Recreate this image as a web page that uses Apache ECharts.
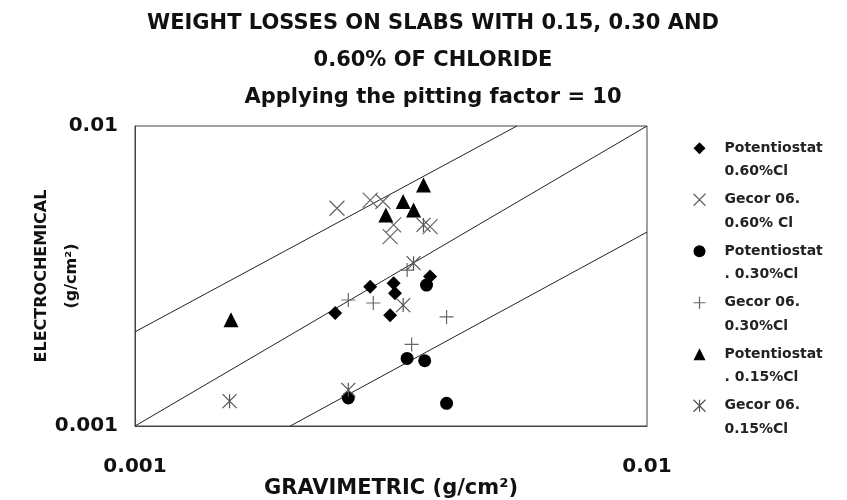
<!DOCTYPE html>
<html>
<head>
<meta charset="utf-8">
<script src="https://cdn.jsdelivr.net/npm/echarts@6/dist/echarts.min.js"></script>
<style>
  html, body { margin: 0; background: #fff; }
  #chart { width: 847px; height: 500px; }
</style>
</head>
<body>
<div id="chart"></div>
<script>
// values (g/cm2), [gravimetric, electrochemical]
const seriesNames = [
  "Potentiostat\n0.60%Cl",
  "Gecor 06.\n0.60% Cl",
  "Potentiostat\n. 0.30%Cl",
  "Gecor 06.\n0.30%Cl",
  "Potentiostat\n. 0.15%Cl",
  "Gecor 06.\n0.15%Cl"
]
const pot060 = [[0.00246, 0.00238], [0.00288, 0.00291], [0.00320, 0.00299], [0.00322, 0.00277], [0.00315, 0.00234], [0.00377, 0.00315]]
const gec060 = [[0.00248, 0.00532], [0.00288, 0.00566], [0.00305, 0.00560], [0.00315, 0.00428], [0.00320, 0.00468], [0.00377, 0.00462]]
const pot030 = [[0.00261, 0.00124], [0.00340, 0.00168], [0.00368, 0.00165], [0.00406, 0.00119], [0.00371, 0.00295]]
const gec030 = [[0.00261, 0.00263], [0.00292, 0.00257], [0.00340, 0.00331], [0.00406, 0.00231], [0.00347, 0.00187]]
const pot015 = [[0.00154, 0.00226], [0.00309, 0.00505], [0.00334, 0.00560], [0.00350, 0.00525], [0.00366, 0.00636]]
const gec015 = [[0.00153, 0.00121], [0.00261, 0.00132], [0.00350, 0.00349], [0.00334, 0.00253], [0.00366, 0.00468]]

// reference lines (factor bands)
const upperLine = [[0.001, 0.00206], [0.00557, 0.01]]
const middleLine = [[0.001, 0.001], [0.01, 0.01]]
const lowerLine = [[0.00201, 0.001], [0.01, 0.00443]]

const xTickLabels = ["0.001", "0.01"]
const yTickLabels = ["0.001", "0.01"]

const FONT = "DejaVu Sans"
const X_PATH = "path://M0,0L10,10M10,0L0,10"
const PLUS_PATH = "path://M5,0L5,10M0,5L10,5"
const STAR_PATH = "path://M0,0L10,10M10,0L0,10M5,0L5,10"

const filled = (color) => ({ color: color, borderWidth: 0, opacity: 1 })
const stroked = (color) => ({ color: "none", borderColor: color, borderWidth: 1.2, opacity: 1 })

const markerDefs = [
  { data: pot060, symbol: "diamond", size: 14, style: filled("#000") },
  { data: gec060, symbol: X_PATH, size: 15, style: stroked("#666") },
  { data: pot030, symbol: "circle", size: 13, style: filled("#000") },
  { data: gec030, symbol: PLUS_PATH, size: 14, style: stroked("#666") },
  { data: pot015, symbol: "triangle", size: 15, style: filled("#000") },
  { data: gec015, symbol: STAR_PATH, size: 14, style: stroked("#555") }
]

function lineSeries(data) {
  return {
    type: "line",
    data: data,
    symbol: "none",
    silent: true,
    lineStyle: { color: "#222", width: 1 },
    z: 1
  }
}

const chart = echarts.init(document.getElementById("chart"))

chart.setOption({
  backgroundColor: "#fff",
  animation: false,
  title: {
    text: "WEIGHT LOSSES ON SLABS WITH 0.15, 0.30 AND\n0.60% OF CHLORIDE\nApplying the pitting factor = 10",
    left: 428,
    top: 0,
    textAlign: "center",
    textStyle: { fontFamily: FONT, fontSize: 21, fontWeight: "bold", color: "#111", lineHeight: 37 }
  },
  legend: {
    orient: "vertical",
    left: 686,
    top: 108,
    itemWidth: 12,
    itemHeight: 12,
    itemGap: -19,
    selectedMode: false,
    data: seriesNames.map((n, i) => ({
      name: n,
      itemStyle: markerDefs[i].style.color === "none"
        ? { color: "none", borderColor: markerDefs[i].style.borderColor, borderWidth: 1.2, opacity: 1 }
        : { color: markerDefs[i].style.color, borderWidth: 0, opacity: 1 }
    })),
    // blank first line so the first text line sits level with the icon
    formatter: (name) => "\n" + name,
    textStyle: {
      fontFamily: FONT, fontSize: 14, fontWeight: "bold", color: "#222",
      lineHeight: 23.5, padding: [0, 0, 0, 14]
    }
  },
  grid: {
    left: 135, right: 200, top: 126, bottom: 74,
    outerBoundsMode: "none",
    containLabel: false,
    show: true, borderColor: "#444", borderWidth: 1, backgroundColor: "transparent"
  },
  xAxis: {
    type: "log",
    logBase: 10,
    min: 0.001,
    max: 0.01,
    name: "GRAVIMETRIC (g/cm²)",
    nameLocation: "middle",
    nameGap: 52,
    nameMoveOverlap: false,
    nameTextStyle: { fontFamily: FONT, fontSize: 21, fontWeight: "bold", color: "#111" },
    axisLine: { lineStyle: { color: "#444" } },
    axisTick: { show: false },
    splitLine: { show: false },
    axisLabel: {
      margin: 31,
      fontFamily: FONT, fontSize: 20, fontWeight: "bold", color: "#111",
      formatter: (v, i) => xTickLabels[i]
    }
  },
  yAxis: {
    type: "log",
    logBase: 10,
    min: 0.001,
    max: 0.01,
    name: "ELECTROCHEMICAL\n(g/cm²)",
    nameLocation: "middle",
    nameGap: 48,
    nameMoveOverlap: false,
    nameTextStyle: { fontFamily: FONT, fontSize: 16, fontWeight: "bold", color: "#111", lineHeight: 30 },
    axisLine: { lineStyle: { color: "#444" } },
    axisTick: { show: false },
    splitLine: { show: false },
    axisLabel: {
      margin: 17,
      fontFamily: FONT, fontSize: 20, fontWeight: "bold", color: "#111",
      formatter: (v, i) => yTickLabels[i]
    }
  },
  series: [
    lineSeries(upperLine),
    lineSeries(middleLine),
    lineSeries(lowerLine),
    ...markerDefs.map((m, i) => ({
      type: "scatter",
      name: seriesNames[i],
      data: m.data,
      symbol: m.symbol,
      symbolSize: m.size,
      itemStyle: m.style,
      z: 3
    }))
  ]
})
</script>
</body>
</html>
